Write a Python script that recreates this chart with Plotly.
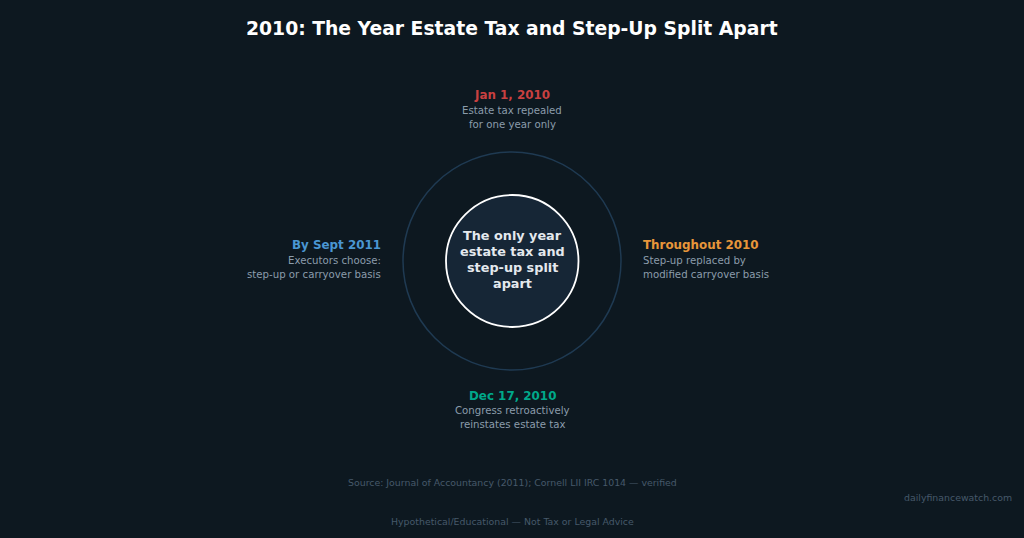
import plotly.graph_objects as go

BG = "#0d1820"
FONT = "DejaVu Sans"

title = "2010: The Year Estate Tax and Step-Up Split Apart"
center_lines = ["The only year", "estate tax and", "step-up split", "apart"]
center_y = [235.5, 251.5, 267.5, 283.5]
events = ["Jan 1, 2010", "Throughout 2010", "Dec 17, 2010", "By Sept 2011"]
event_colors = ["#c94040", "#e8963a", "#00a88a", "#4a96d2"]
event_x = [512, 643, 512, 381]
event_y = [95, 245, 395.5, 245]
detail_y = [110, 260, 410, 260]
event_anchor = ["center", "left", "center", "right"]
details = [
    ["Estate tax repealed", "for one year only"],
    ["Step-up replaced by", "modified carryover basis"],
    ["Congress retroactively", "reinstates estate tax"],
    ["Executors choose:", "step-up or carryover basis"],
]
footers = [
    ("Source: Journal of Accountancy (2011); Cornell LII IRC 1014 — verified", 512, 482, "center", "#46596a"),
    ("dailyfinancewatch.com", 1012, 497.5, "right", "#46596a"),
    ("Hypothetical/Educational — Not Tax or Legal Advice", 512, 521.5, "center", "#46596a"),
]
cx, cy = 512, 261
outer_r, inner_r = 109, 66

fig = go.Figure()
annotations = []


def label(text, x, y, size, color, anchor="center", bold=False):
    annotations.append(dict(
        x=x, y=y, xref="x", yref="y", text=f"<b>{text}</b>" if bold else text,
        showarrow=False, xanchor=anchor, yanchor="middle",
        xshift=-2 if anchor == "left" else (2 if anchor == "right" else 0),
        font=dict(family=FONT, size=size, color=color),
    ))


label(title, 512, 28, 18.75, "#ffffff", bold=True)
for line, y in zip(center_lines, center_y):
    label(line, 512, y, 12.8, "#e4e9ee", bold=True)
for name, col, x, y, dy, anc, det in zip(events, event_colors, event_x, event_y, detail_y, event_anchor, details):
    label(name, x, y, 11.9, col, anc, bold=True)
    label(det[0], x, dy, 10.2, "#8b9cab", anc)
    label(det[1], x, dy + 14, 10.2, "#8b9cab", anc)
for text, x, y, anc, col in footers:
    label(text, x, y, 9.4, col, anc)

shapes = [
    dict(type="circle", xref="x", yref="y", x0=cx - outer_r, x1=cx + outer_r,
         y0=cy - outer_r, y1=cy + outer_r, line=dict(color="#1f3a52", width=1.5),
         fillcolor="rgba(0,0,0,0)"),
    dict(type="circle", xref="x", yref="y", x0=cx - inner_r, x1=cx + inner_r + 0.5,
         y0=cy - inner_r, y1=cy + inner_r, line=dict(color="#ffffff", width=1.8),
         fillcolor="#162636"),
]

fig.update_layout(
    width=1024, height=538, margin=dict(l=0, r=0, t=0, b=0),
    paper_bgcolor=BG, plot_bgcolor=BG, showlegend=False,
    xaxis=dict(range=[0, 1024], visible=False, fixedrange=True),
    yaxis=dict(range=[538, 0], visible=False, fixedrange=True),
    shapes=shapes, annotations=annotations,
)
fig.write_html(
    "out.html",
    config={"displayModeBar": False},
    post_script="document.body.style.margin='0';document.body.style.overflow='hidden';document.body.style.background='#0d1820';",
)
